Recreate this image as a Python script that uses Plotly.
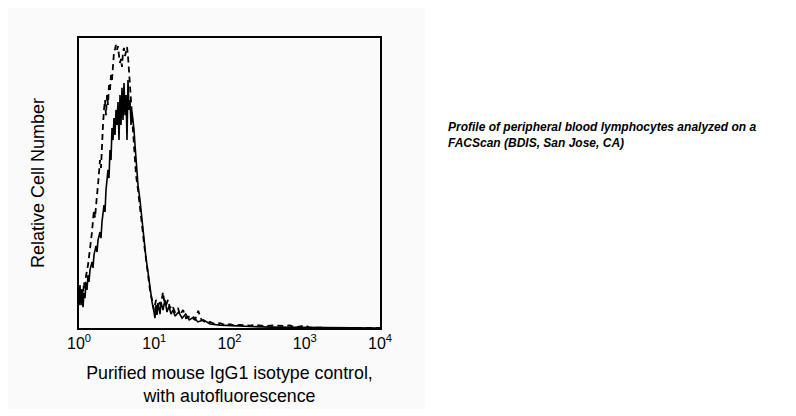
import plotly.graph_objects as go

# Fluorescence intensity (channel values) and relative cell counts
solid_x = [1.00, 1.031, 1.063, 1.096, 1.130, 1.165, 1.201, 1.239, 1.277, 1.317, 1.358, 1.400,
           1.489, 1.535, 1.582, 1.682, 1.735, 1.789, 1.901, 1.960, 2.021, 2.149, 2.216, 2.285,
           2.429, 2.505, 2.582, 2.663, 2.745, 2.831, 2.919, 3.010, 3.102, 3.199, 3.298, 3.401,
           3.506, 3.616, 3.728, 3.844, 3.963, 4.087, 4.213, 4.345, 4.479, 4.619, 4.762, 4.911,
           5.062, 5.220, 5.382, 5.550, 5.721, 5.900, 6.082, 6.466, 6.874, 7.308, 7.769, 8.259,
           8.779, 9.335, 9.924, 10.23, 10.55, 10.87, 11.21, 11.92, 12.29, 13.07, 13.89, 14.77,
           15.70, 16.69, 17.75, 18.87, 21.06, 23.46, 26.18, 29.19, 33.40, 37.96, 44.90, 55.07,
           74.78, 118.0, 187.3, 345.3, 864.8, 10000]
solid_y = [9.7, 14.8, 7.9, 13.1, 7.2, 12.1, 10.3, 15.5, 13.1, 18.3, 15.9, 20.0,
           22.8, 20.7, 25.2, 28.3, 26.2, 30.3, 33.1, 31.0, 36.6, 42.4, 40.0, 47.6,
           54.5, 51.7, 61.4, 57.9, 69.0, 64.8, 72.4, 66.6, 75.2, 70.0, 77.9, 64.8,
           80.3, 70.0, 82.8, 71.7, 84.5, 73.4, 80.3, 64.8, 85.5, 75.2, 78.6, 70.0,
           74.5, 71.7, 68.3, 63.1, 57.9, 53.8, 49.3, 44.1, 36.6, 30.3, 24.1, 19.3,
           13.1, 9.0, 5.5, 3.4, 7.9, 4.5, 8.6, 4.8, 9.0, 6.2, 9.7, 5.5,
           7.6, 4.8, 6.2, 4.1, 5.5, 3.4, 4.8, 2.8, 3.8, 2.1, 2.8, 1.4,
           1.0, 0.7, 0.5, 0.3, 0.2, 0.0]

dashed_x = [1.00, 1.031, 1.063, 1.096, 1.130, 1.165, 1.201, 1.239, 1.317, 1.400, 1.444, 1.489,
            1.535, 1.582, 1.632, 1.682, 1.735, 1.789, 1.844, 1.901, 1.960, 2.021, 2.084, 2.149,
            2.216, 2.285, 2.356, 2.429, 2.505, 2.582, 2.663, 2.745, 2.831, 2.919, 3.010, 3.102,
            3.199, 3.298, 3.401, 3.506, 3.616, 3.728, 3.844, 3.963, 4.087, 4.213, 4.345, 4.479,
            4.619, 4.762, 4.911, 5.062, 5.220, 5.382, 5.550, 5.721, 6.082, 6.466, 6.874, 7.308,
            7.769, 8.259, 8.779, 9.335, 9.924, 10.55, 11.21, 11.92, 12.67, 13.07, 13.48, 14.33,
            15.23, 16.19, 17.21, 18.87, 20.70, 21.99, 24.14, 26.45, 29.87, 34.79, 38.40, 42.40,
            49.20, 55.07, 63.90, 74.78, 87.30, 101.5, 118.0, 137.9, 187.3, 218.0, 296.0, 402.0,
            545.0, 636.8, 743.0, 1010, 1174, 10000]
dashed_y = [7.9, 11.4, 9.7, 13.8, 11.0, 15.9, 13.1, 17.9, 21.7, 26.9, 30.3, 33.1,
            37.2, 40.7, 38.0, 44.1, 45.9, 49.3, 52.8, 57.9, 55.2, 64.8, 70.0, 75.2,
            78.6, 73.4, 80.3, 76.9, 83.8, 82.1, 87.2, 85.5, 92.4, 95.2, 96.2, 97.6,
            95.9, 97.2, 93.8, 91.4, 92.8, 90.0, 95.2, 96.6, 93.8, 95.9, 96.9, 93.8,
            88.3, 83.1, 78.6, 71.7, 66.6, 61.4, 56.2, 52.8, 47.6, 42.4, 35.5, 29.3,
            23.4, 18.3, 13.1, 9.7, 6.2, 9.7, 7.6, 9.0, 10.3, 12.4, 9.7, 7.9,
            9.7, 6.9, 7.9, 5.5, 6.9, 4.5, 6.2, 3.4, 4.1, 2.8, 5.9, 2.8,
            1.8, 2.1, 1.4, 1.7, 1.0, 1.3, 0.8, 1.1, 0.8, 1.1, 0.7, 0.9,
            0.7, 0.9, 0.2, 0.9, 0.1, 0.0]

tick_vals = [1, 10, 100, 1000, 10000]
tick_text = ["10<sup>0</sup>", "10<sup>1</sup>", "10<sup>2</sup>", "10<sup>3</sup>", "10<sup>4</sup>"]

x_title = "Purified mouse IgG1 isotype control,<br>with autofluorescence"
y_title = "Relative Cell Number"
note_lines = ["Profile of peripheral blood lymphocytes analyzed on a",
              "FACScan (BDIS, San Jose, CA)"]

FONT = "Liberation Sans, Arial, sans-serif"

fig = go.Figure()
fig.add_trace(go.Scatter(x=dashed_x, y=dashed_y, mode="lines",
                         line=dict(color="black", width=1.8, dash="6px,4px"),
                         showlegend=False, hoverinfo="skip"))
fig.add_trace(go.Scatter(x=solid_x, y=solid_y, mode="lines",
                         line=dict(color="black", width=1.6),
                         showlegend=False, hoverinfo="skip"))

# faint grey panel behind the chart (left part of the image)
fig.add_shape(type="rect", xref="paper", yref="paper",
              x0=-0.3, x1=1.1495, y0=-0.279, y1=1.117,
              fillcolor="#fafafa", line=dict(width=0), layer="below")

fig.add_annotation(text="<br>".join("<b><i>" + s + "</i></b>" for s in note_lines),
                   xref="paper", yref="paper",
                   x=(446 - 79) / 301, y=(328 - 118) / 290, xanchor="left", yanchor="top",
                   showarrow=False, align="left",
                   font=dict(family=FONT, size=12, color="black"))

# the page body adds an 8px offset, so the figure is 8px smaller than the window
fig.update_layout(
    width=788, height=408,
    margin=dict(l=71, r=416, t=30, b=88, autoexpand=False),
    paper_bgcolor="white", plot_bgcolor="white",
    font=dict(family=FONT, color="black"),
    xaxis=dict(type="log", range=[0, 4], tickvals=tick_vals, ticktext=tick_text,
               showgrid=False, zeroline=False, ticks="", showline=True, mirror=True,
               linecolor="black", linewidth=2, automargin=False,
               tickfont=dict(family=FONT, size=16, color="black"),
               title=dict(text=x_title, font=dict(family=FONT, size=17.8, color="black"), standoff=15)),
    yaxis=dict(range=[0, 100], showticklabels=False, showgrid=False, zeroline=False,
               ticks="", showline=True, mirror=True, linecolor="black", linewidth=2, automargin=False,
               title=dict(text=y_title, font=dict(family=FONT, size=18, color="black"), standoff=28)),
)

fig.write_html("out.html")
